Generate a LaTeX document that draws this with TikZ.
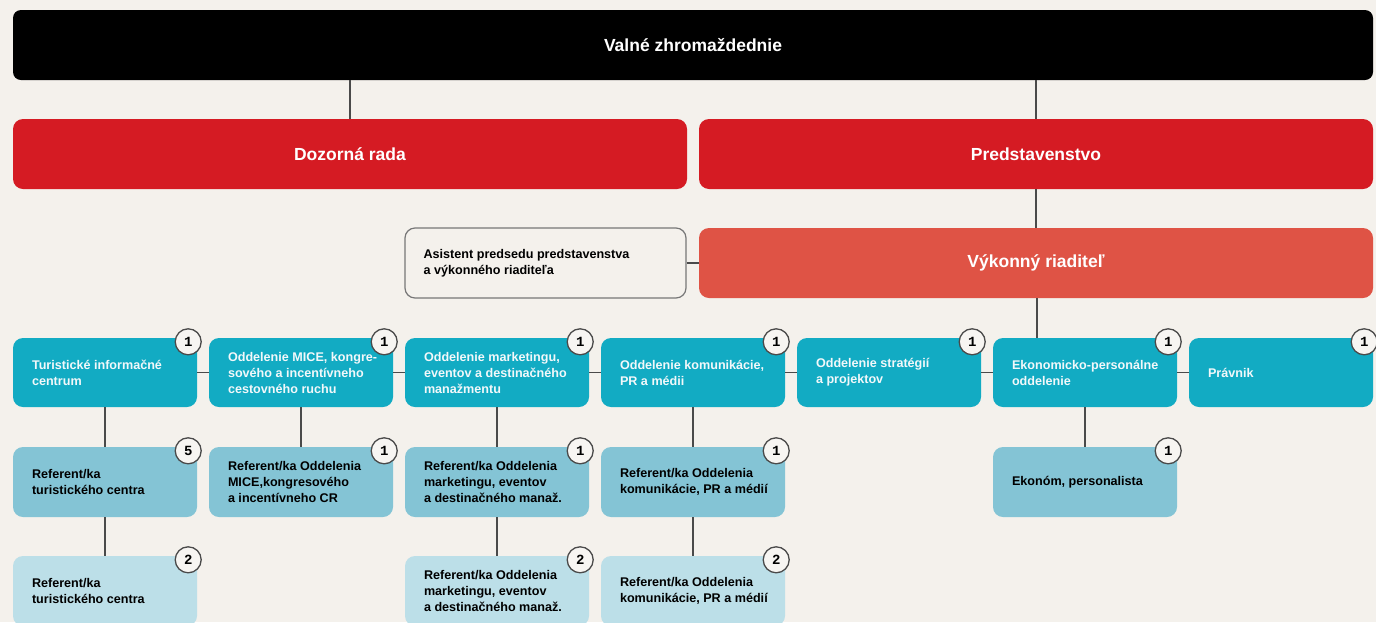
\documentclass[tikz,border=0pt]{standalone}
\usepackage{fontspec}
\setmainfont{Liberation Sans}
\newfontfamily\badgefont{Liberation Mono}
\definecolor{bgc}{HTML}{F4F1EC}
\definecolor{redc}{HTML}{D51B23}
\definecolor{vrc}{HTML}{DF5345}
\definecolor{tealc}{HTML}{12ABC3}
\definecolor{midc}{HTML}{84C4D5}
\definecolor{lightc}{HTML}{BCDFE8}
\definecolor{linec}{HTML}{4A4A4A}
\definecolor{badgec}{HTML}{F7F5F2}
\definecolor{whitetxt}{HTML}{F2F8FA}
\newcommand\cnt[3]{\node[badge] (#1) at ([xshift=-9pt,yshift=-4pt]#2.north east) {#3};}
\begin{document}
\begin{tikzpicture}[x=1pt,y=-1pt,
  bigbox/.style={rectangle, rounded corners=10pt, inner sep=0pt, minimum height=70pt},
  unitbox/.style={rectangle, rounded corners=10pt, inner sep=0pt, minimum width=184pt, minimum height=70pt},
  titletxt/.style={text=white, font=\fontsize{17.5}{20}\selectfont\bfseries},
  wtxt/.style={anchor=west, align=left, inner sep=0pt, text=whitetxt, font=\fontsize{12.6}{16}\selectfont\bfseries},
  btxt/.style={anchor=west, align=left, inner sep=0pt, text=black, font=\fontsize{12.6}{16}\selectfont\bfseries},
  badge/.style={circle, draw=linec, line width=1.3pt, fill=badgec, minimum size=26pt, inner sep=0pt, font=\badgefont\fontsize{14}{14}\selectfont\bfseries},
  conn/.style={draw=linec, line width=1.3pt}
]
\fill[bgc] (0,0) rectangle (1376,622);
\useasboundingbox (0,0) rectangle (1376,622);
\clip (0,0) rectangle (1376,622);

% top levels
\node[bigbox, fill=black, minimum width=1360pt, rounded corners=8pt] (vz) at (693,45) {};
\node[titletxt] (vzt) at (vz.center) {Valné zhromaždednie};
\node[bigbox, fill=redc, minimum width=674pt] (dr) at (350,154) {};
\node[titletxt] (drt) at (dr.center) {Dozorná rada};
\node[bigbox, fill=redc, minimum width=674pt] (ps) at (1036,154) {};
\node[titletxt] (pst) at (ps.center) {Predstavenstvo};
\node[bigbox, fill=vrc, minimum width=674pt] (vr) at (1036,263) {};
\node[titletxt] (vrt) at (vr.center) {Výkonný riaditeľ};
\node[bigbox, fill=bgc, draw=linec!75, line width=1.2pt, minimum width=281pt] (as) at (545.5,263) {};
\node[btxt] (ast) at ([xshift=19pt]as.west) {Asistent predsedu predstavenstva\\a výkonného riaditeľa};

% row 1
\node[unitbox, fill=tealc, minimum height=69pt] (a1) at (105,372.5) {};
\node[unitbox, fill=tealc, minimum height=69pt] (a2) at (301,372.5) {};
\node[unitbox, fill=tealc, minimum height=69pt] (a3) at (497,372.5) {};
\node[unitbox, fill=tealc, minimum height=69pt] (a4) at (693,372.5) {};
\node[unitbox, fill=tealc, minimum height=69pt] (a5) at (889,372.5) {};
\node[unitbox, fill=tealc, minimum height=69pt] (a6) at (1085,372.5) {};
\node[unitbox, fill=tealc, minimum height=69pt] (a7) at (1281,372.5) {};
\node[wtxt] (a1t) at ([xshift=19pt]a1.west) {Turistické informačné\\centrum};
\node[wtxt] (a2t) at ([xshift=19pt]a2.west) {Oddelenie MICE, kongre-\\sového a incentívneho\\cestovného ruchu};
\node[wtxt] (a3t) at ([xshift=19pt]a3.west) {Oddelenie marketingu,\\eventov a destinačného\\manažmentu};
\node[wtxt] (a4t) at ([xshift=19pt]a4.west) {Oddelenie komunikácie,\\PR a médii};
\node[wtxt] (a5t) at ([xshift=19pt]a5.west) {Oddelenie stratégií\\a projektov};
\node[wtxt] (a6t) at ([xshift=19pt]a6.west) {Ekonomicko-personálne\\oddelenie};
\node[wtxt] (a7t) at ([xshift=19pt]a7.west) {Právnik};

% row 2
\node[unitbox, fill=midc] (b1) at (105,482) {};
\node[unitbox, fill=midc] (b2) at (301,482) {};
\node[unitbox, fill=midc] (b3) at (497,482) {};
\node[unitbox, fill=midc] (b4) at (693,482) {};
\node[unitbox, fill=midc] (b6) at (1085,482) {};
\node[btxt] (b1t) at ([xshift=19pt]b1.west) {Referent/ka\\turistického centra};
\node[btxt] (b2t) at ([xshift=19pt]b2.west) {Referent/ka Oddelenia\\MICE,kongresového\\a incentívneho CR};
\node[btxt] (b3t) at ([xshift=19pt]b3.west) {Referent/ka Oddelenia\\marketingu, eventov\\a destinačného manaž.};
\node[btxt] (b4t) at ([xshift=19pt]b4.west) {Referent/ka Oddelenia\\komunikácie, PR a médií};
\node[btxt] (b6t) at ([xshift=19pt]b6.west) {Ekonóm, personalista};

% row 3
\node[unitbox, fill=lightc] (c1) at (105,591) {};
\node[unitbox, fill=lightc] (c3) at (497,591) {};
\node[unitbox, fill=lightc] (c4) at (693,591) {};
\node[btxt] (c1t) at ([xshift=19pt]c1.west) {Referent/ka\\turistického centra};
\node[btxt] (c3t) at ([xshift=19pt]c3.west) {Referent/ka Oddelenia\\marketingu, eventov\\a destinačného manaž.};
\node[btxt] (c4t) at ([xshift=19pt]c4.west) {Referent/ka Oddelenia\\komunikácie, PR a médií};

% connectors
\draw[conn] (dr.north |- vz.south) -- (dr.north);
\draw[conn] (ps.north |- vz.south) -- (ps.north);
\draw[conn] (ps.south) -- (vr.north);
\draw[conn] (as.east) -- (vr.west);
\draw[conn] ([xshift=1pt]vr.south) -- ([xshift=1pt]vr.south |- a6.north);
\draw[conn] (a1.east) -- (a2.west);
\draw[conn] (a2.east) -- (a3.west);
\draw[conn] (a3.east) -- (a4.west);
\draw[conn] (a4.east) -- (a5.west);
\draw[conn] (a5.east) -- (a6.west);
\draw[conn] (a6.east) -- (a7.west);
\draw[conn] (a1.south) -- (b1.north);
\draw[conn] (a2.south) -- (b2.north);
\draw[conn] (a3.south) -- (b3.north);
\draw[conn] (a4.south) -- (b4.north);
\draw[conn] (a6.south) -- (b6.north);
\draw[conn] (b1.south) -- (c1.north);
\draw[conn] (b3.south) -- (c3.north);
\draw[conn] (b4.south) -- (c4.north);

% badges
\cnt{n1}{a1}{1}
\cnt{n2}{a2}{1}
\cnt{n3}{a3}{1}
\cnt{n4}{a4}{1}
\cnt{n5}{a5}{1}
\cnt{n6}{a6}{1}
\cnt{n7}{a7}{1}
\cnt{m1}{b1}{5}
\cnt{m2}{b2}{1}
\cnt{m3}{b3}{1}
\cnt{m4}{b4}{1}
\cnt{m6}{b6}{1}
\cnt{k1}{c1}{2}
\cnt{k3}{c3}{2}
\cnt{k4}{c4}{2}
\end{tikzpicture}
\end{document}
